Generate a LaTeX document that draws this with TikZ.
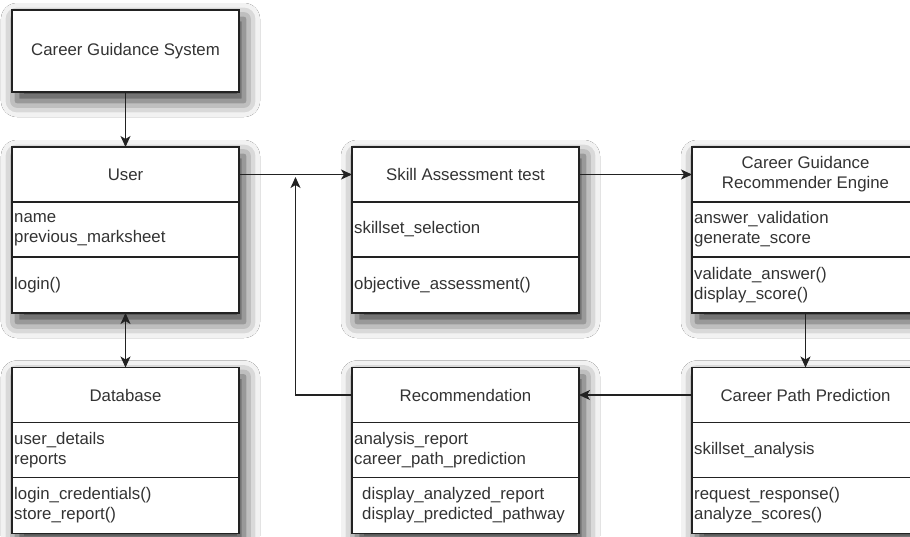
\documentclass[tikz,border=0pt]{standalone}
\usepackage{fontspec}
\setmainfont{Liberation Sans}
\usetikzlibrary{arrows.meta,shadows.blur,calc}
\definecolor{linec}{HTML}{222222}
\definecolor{textc}{HTML}{333333}
\tikzset{
  boxbase/.style={draw=linec, line width=1.3pt, fill=white, rectangle,
    minimum width=227pt, inner sep=0pt, outer sep=0pt,
    blur shadow={shadow xshift=5pt, shadow yshift=-9pt, shadow blur radius=16pt, shadow opacity=80}},
  classbox/.style={boxbase, minimum height=166pt},
  plainbox/.style={boxbase, minimum height=82pt, font=\fontsize{16.8pt}{20pt}\selectfont, text=textc},
  sepline/.style={draw=linec, line width=1.3pt},
  titletext/.style={text=textc, font=\fontsize{16.8pt}{20pt}\selectfont, align=center, inner sep=0pt},
  membertext/.style={text=textc, font=\fontsize{16.8pt}{20pt}\selectfont, align=left, inner sep=0pt, anchor=west},
  conn/.style={draw=linec, line width=1.3pt, -{Stealth[length=11pt,width=10pt,inset=3pt]}},
  conntwo/.style={draw=linec, line width=1.3pt, {Stealth[length=11pt,width=10pt,inset=3pt]}-{Stealth[length=11pt,width=10pt,inset=3pt]}},
}
\newcommand\umlclass[7]{%
  \node[classbox] (#1) at (#2,#3) {};
  \draw[sepline] ([yshift=-55pt]#1.north west) -- ([yshift=-55pt]#1.north east);
  \draw[sepline] ([yshift=-110pt]#1.north west) -- ([yshift=-110pt]#1.north east);
  \node[titletext] (#1-t) at ([yshift=-27.5pt]#1.north) {#4};
  \node[membertext] (#1-a) at ([xshift=2pt,yshift=-82.5pt]#1.north west) {#5};
  \node[membertext] (#1-m) at ([xshift=#7,yshift=-138pt]#1.north west) {#6};
}
\begin{document}
\begin{tikzpicture}[x=1pt,y=-1pt]
\useasboundingbox (0,0) rectangle (910,536);
\fill[white] (0,0) rectangle (910,536);
\clip (0,0) rectangle (910,536);

\node[plainbox] (cgs) at (125.5,51) {Career Guidance System};

\umlclass{user}{125.5}{230}{User}{name\\previous\_marksheet}{login()}{2pt}
\umlclass{db}{125.5}{450.5}{Database}{user\_details\\reports}{login\_credentials()\\store\_report()}{2pt}
\umlclass{skill}{465.5}{230}{Skill Assessment test}{skillset\_selection}{objective\_assessment()}{2pt}
\umlclass{cgre}{805.5}{230}{Career Guidance\\Recommender Engine}{answer\_validation\\generate\_score}{validate\_answer()\\display\_score()}{2pt}
\umlclass{rec}{465.5}{450.5}{Recommendation}{analysis\_report\\career\_path\_prediction}{display\_analyzed\_report\\display\_predicted\_pathway}{10pt}
\umlclass{cpp}{805.5}{450.5}{Career Path Prediction}{skillset\_analysis}{request\_response()\\analyze\_scores()}{2pt}

\coordinate (tip) at (295.5,177);

\draw[conn] (cgs) -- (user);
\draw[conntwo] (user) -- (db);
\draw[conn] (user-t -| user.east) -- (skill-t -| skill.west);
\draw[conn] (skill-t -| skill.east) -- (cgre-t -| cgre.west);
\draw[conn] (cgre) -- (cpp);
\draw[conn] (cpp-t -| cpp.west) -- (rec-t -| rec.east);
\draw[conn] (rec-t -| rec.west) -| (tip);
\end{tikzpicture}
\end{document}
